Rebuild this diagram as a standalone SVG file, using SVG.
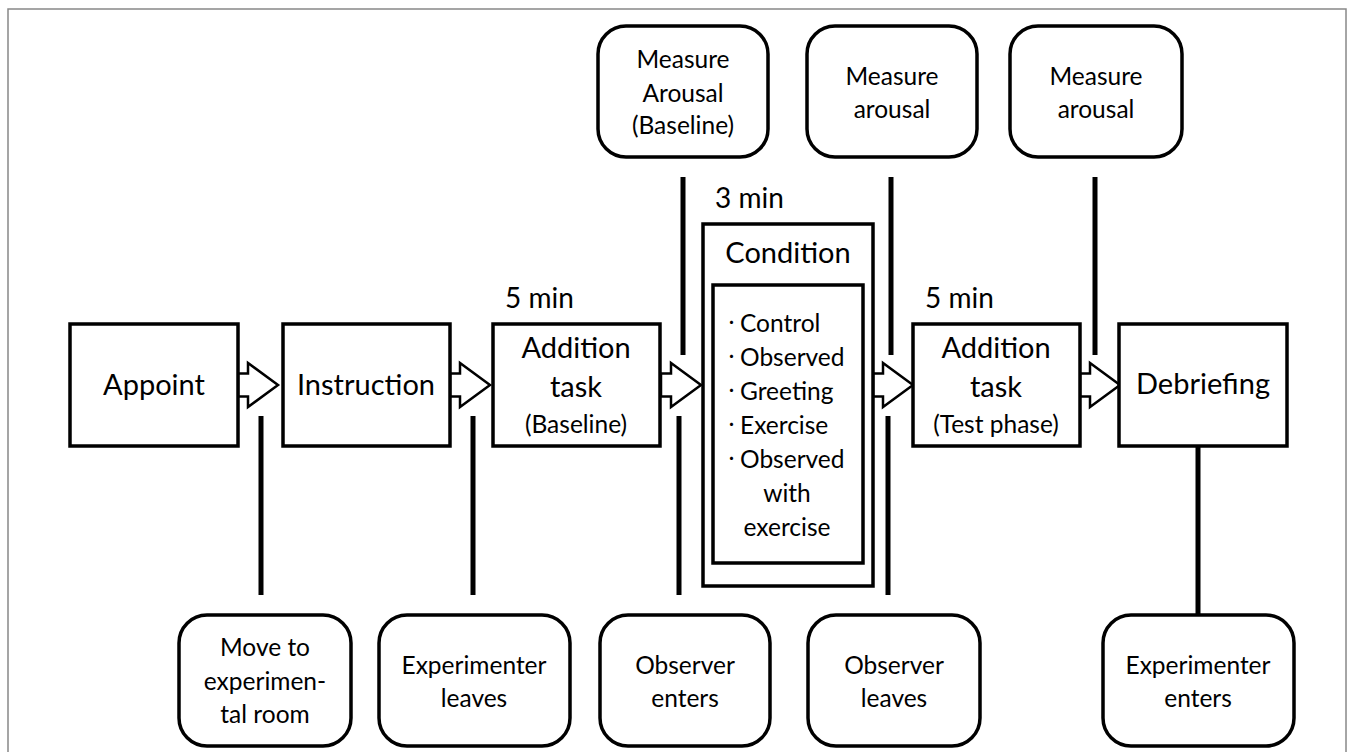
<svg xmlns="http://www.w3.org/2000/svg" width="1355" height="752" viewBox="0 0 1355 752">
<style>
.box{fill:#fff;stroke:#000;stroke-width:3.5}
.rbox{fill:#fff;stroke:#000;stroke-width:3.5}
.ln{stroke:#000;stroke-width:5;fill:none}
.arr{fill:#fff;stroke:#000;stroke-width:2.5;stroke-linejoin:miter}
text{font-family:Lato,"Open Sans","Liberation Sans",sans-serif;fill:#000;text-anchor:middle}
.big{font-size:29px}
.sm{font-size:24.5px}
.min{font-size:28px}
.st{text-anchor:start}
.dot{font-family:"Noto Sans CJK JP",sans-serif;font-size:15px}
</style>
<defs>
<path id="blk" d="M0,-11.5 H10 V-22 L40,0 L10,22 V11.5 H0 Z"/>
</defs>
<rect x="8" y="9" width="1338" height="760" fill="#fff" stroke="#888" stroke-width="1.5"/>

<g id="connectors">
<line class="ln" x1="261" y1="416" x2="261" y2="595"/>
<line class="ln" x1="473" y1="416" x2="473" y2="595"/>
<line class="ln" x1="679" y1="416" x2="679" y2="595"/>
<line class="ln" x1="683" y1="177" x2="683" y2="355"/>
<line class="ln" x1="891" y1="177" x2="891" y2="355"/>
<line class="ln" x1="888" y1="416" x2="888" y2="595"/>
<line class="ln" x1="1095" y1="177" x2="1095" y2="355"/>
<line class="ln" x1="1198" y1="446" x2="1198" y2="615"/>
<use href="#blk" class="arr" x="238" y="385"/>
<use href="#blk" class="arr" x="450" y="385"/>
<use href="#blk" class="arr" x="661" y="385"/>
<use href="#blk" class="arr" x="873" y="385"/>
<use href="#blk" class="arr" x="1080" y="385"/>
</g>

<g id="appoint">
<rect class="box" x="70" y="324" width="168" height="122"/>
<text class="big" x="154" y="395">Appoint</text>
</g>
<g id="instruction">
<rect class="box" x="283" y="324" width="167" height="122"/>
<text class="big" x="366" y="395">Instruction</text>
</g>
<g id="addition-baseline">
<text class="min st" x="505" y="308">5 min</text>
<rect class="box" x="493" y="324" width="167" height="122"/>
<text class="big" x="576" y="358">Addition</text>
<text class="big" x="576" y="397">task</text>
<text class="sm" x="576" y="433">(Baseline)</text>
</g>
<g id="condition">
<text class="min st" x="715" y="208">3 min</text>
<rect class="box" x="703" y="224" width="170" height="362"/>
<text class="big" x="788" y="263">Condition</text>
<rect class="box" x="713" y="285" width="150" height="278"/>
<text class="sm st" x="724" y="328"><tspan class="dot">・</tspan><tspan x="740" dy="4">Control</tspan></text>
<text class="sm st" x="724" y="362"><tspan class="dot">・</tspan><tspan x="740" dy="4">Observed</tspan></text>
<text class="sm st" x="724" y="396"><tspan class="dot">・</tspan><tspan x="740" dy="4">Greeting</tspan></text>
<text class="sm st" x="724" y="430"><tspan class="dot">・</tspan><tspan x="740" dy="4">Exercise</tspan></text>
<text class="sm st" x="724" y="464"><tspan class="dot">・</tspan><tspan x="740" dy="4">Observed</tspan></text>
<text class="sm" x="787" y="502">with</text>
<text class="sm" x="787" y="536">exercise</text>
</g>
<g id="addition-test">
<text class="min st" x="925" y="308">5 min</text>
<rect class="box" x="913" y="324" width="167" height="122"/>
<text class="big" x="996" y="358">Addition</text>
<text class="big" x="996" y="397">task</text>
<text class="sm" x="996" y="433">(Test phase)</text>
</g>
<g id="debriefing">
<rect class="box" x="1119" y="324" width="168" height="122"/>
<text class="big" x="1203" y="394">Debriefing</text>
</g>

<g id="measure-baseline">
<rect class="rbox" x="598" y="26" width="170" height="131" rx="28"/>
<text class="sm" x="683" y="68">Measure</text>
<text class="sm" x="683" y="102">Arousal</text>
<text class="sm" x="683" y="134">(Baseline)</text>
</g>
<g id="measure-2">
<rect class="rbox" x="807" y="26" width="170" height="131" rx="28"/>
<text class="sm" x="892" y="85">Measure</text>
<text class="sm" x="892" y="118">arousal</text>
</g>
<g id="measure-3">
<rect class="rbox" x="1010" y="26" width="172" height="131" rx="28"/>
<text class="sm" x="1096" y="85">Measure</text>
<text class="sm" x="1096" y="118">arousal</text>
</g>

<g id="move-room">
<rect class="rbox" x="179" y="615" width="172" height="131" rx="28"/>
<text class="sm" x="265" y="656">Move to</text>
<text class="sm" x="265" y="690">experimen-</text>
<text class="sm" x="265" y="723">tal room</text>
</g>
<g id="experimenter-leaves">
<rect class="rbox" x="379" y="615" width="191" height="131" rx="28"/>
<text class="sm" x="474" y="674">Experimenter</text>
<text class="sm" x="474" y="707">leaves</text>
</g>
<g id="observer-enters">
<rect class="rbox" x="600" y="615" width="170" height="131" rx="28"/>
<text class="sm" x="685" y="674">Observer</text>
<text class="sm" x="685" y="707">enters</text>
</g>
<g id="observer-leaves">
<rect class="rbox" x="808" y="615" width="172" height="131" rx="28"/>
<text class="sm" x="894" y="674">Observer</text>
<text class="sm" x="894" y="707">leaves</text>
</g>
<g id="experimenter-enters">
<rect class="rbox" x="1103" y="615" width="191" height="131" rx="28"/>
<text class="sm" x="1198" y="674">Experimenter</text>
<text class="sm" x="1198" y="707">enters</text>
</g>
</svg>
